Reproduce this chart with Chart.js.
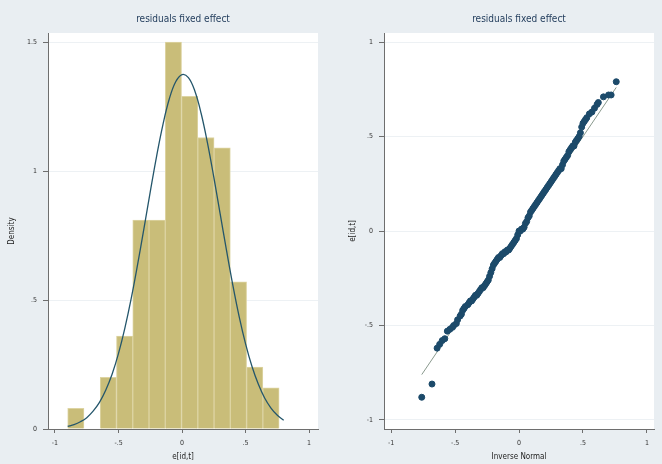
<!DOCTYPE html>
<html>
<head>
<meta charset="utf-8">
<script src="https://cdn.jsdelivr.net/npm/chart.js@4.4.1/dist/chart.umd.min.js"></script>
<style>
  body { margin: 0; background: #e9eef2; }
  .panel { position: absolute; top: 0; width: 331px; height: 464px; }
</style>
</head>
<body>
<div class="panel" style="left:0"><canvas id="histChart" width="331" height="464"></canvas></div>
<div class="panel" style="left:331px"><canvas id="qqChart" width="331" height="464"></canvas></div>
<script>
  // ======== dados ========
  const binCenters = [-0.836, -0.708, -0.580, -0.452, -0.324, -0.196, -0.068, 0.060, 0.188, 0.316, 0.444, 0.572, 0.700];
  const binDensity = [0.08, 0, 0.20, 0.36, 0.81, 0.81, 1.50, 1.29, 1.13, 1.09, 0.57, 0.24, 0.16];

  const curveX = [-0.90, -0.85, -0.80, -0.75, -0.70, -0.65, -0.60, -0.55, -0.50, -0.45, -0.40, -0.35, -0.30, -0.25, -0.20, -0.15, -0.10, -0.05,
                  0.00, 0.05, 0.10, 0.15, 0.20, 0.25, 0.30, 0.35, 0.40, 0.45, 0.50, 0.55, 0.60, 0.65, 0.70, 0.75, 0.80];
  const curveY = [0.010, 0.017, 0.028, 0.044, 0.069, 0.103, 0.151, 0.213, 0.293, 0.391, 0.506, 0.637, 0.777, 0.920, 1.058, 1.181, 1.280, 1.346,
                  1.374, 1.362, 1.311, 1.224, 1.109, 0.976, 0.834, 0.692, 0.557, 0.435, 0.330, 0.243, 0.174, 0.120, 0.081, 0.053, 0.034];

  const qqX = [-0.76, -0.68, -0.64, -0.62, -0.60, -0.58, -0.56, -0.54, -0.52, -0.51, -0.49, -0.48, -0.46, -0.45, -0.44, -0.43, -0.42, -0.40,
               -0.39, -0.38, -0.37, -0.36, -0.35, -0.34, -0.33, -0.32, -0.31, -0.30, -0.29, -0.28, -0.27, -0.26, -0.25, -0.24, -0.23, -0.22,
               -0.21, -0.20, -0.19, -0.18, -0.17, -0.16, -0.15, -0.14, -0.13, -0.12, -0.11, -0.10, -0.09, -0.08, -0.07, -0.06, -0.05, -0.04,
               -0.03, -0.02, -0.01, 0.00, 0.01, 0.02, 0.03, 0.04, 0.05, 0.06, 0.07, 0.08, 0.09, 0.10, 0.11, 0.12, 0.13, 0.14, 0.15, 0.16,
               0.17, 0.18, 0.19, 0.20, 0.21, 0.22, 0.23, 0.24, 0.25, 0.26, 0.27, 0.28, 0.29, 0.30, 0.31, 0.32, 0.33, 0.34, 0.35, 0.36,
               0.37, 0.38, 0.39, 0.40, 0.41, 0.42, 0.43, 0.44, 0.45, 0.46, 0.47, 0.48, 0.49, 0.50, 0.51, 0.52, 0.53, 0.55, 0.57, 0.59,
               0.61, 0.62, 0.66, 0.70, 0.72, 0.76];
  const qqY = [-0.88, -0.81, -0.62, -0.60, -0.58, -0.57, -0.53, -0.52, -0.51, -0.50, -0.49, -0.47, -0.45, -0.44, -0.42, -0.41, -0.40, -0.39,
               -0.38, -0.37, -0.37, -0.36, -0.35, -0.34, -0.34, -0.33, -0.32, -0.31, -0.30, -0.30, -0.29, -0.28, -0.27, -0.26, -0.24, -0.22,
               -0.20, -0.18, -0.17, -0.16, -0.15, -0.14, -0.14, -0.13, -0.12, -0.12, -0.11, -0.11, -0.10, -0.10, -0.09, -0.08, -0.07, -0.06,
               -0.05, -0.04, -0.02, 0.00, 0.00, 0.01, 0.01, 0.02, 0.04, 0.05, 0.07, 0.08, 0.10, 0.11, 0.12, 0.13, 0.14, 0.15, 0.16, 0.17,
               0.18, 0.19, 0.20, 0.21, 0.22, 0.23, 0.24, 0.25, 0.26, 0.27, 0.28, 0.29, 0.30, 0.31, 0.32, 0.33, 0.33, 0.35, 0.37, 0.38,
               0.39, 0.40, 0.42, 0.43, 0.44, 0.45, 0.45, 0.47, 0.48, 0.49, 0.50, 0.52, 0.55, 0.57, 0.58, 0.59, 0.60, 0.62, 0.63, 0.65,
               0.67, 0.68, 0.71, 0.72, 0.72, 0.79];
  const refLineX = [-0.76, 0.76];
  const refLineY = [-0.76, 0.76];

  const xTickVals = [-1, -0.5, 0, 0.5, 1];
  const xTickLabels = ['-1', '-.5', '0', '.5', '1'];
  const densTickVals = [0, 0.5, 1, 1.5];
  const densTickLabels = ['0', '.5', '1', '1.5'];
  const residTickVals = [-1, -0.5, 0, 0.5, 1];
  const residTickLabels = ['-1', '-.5', '0', '.5', '1'];

  // ======== estilo comum ========
  const fontFam = "'Liberation Sans Narrow', 'DejaVu Sans Condensed', 'Liberation Sans', sans-serif";
  const axisColor = '#6e6e6e';
  const tickFont = { family: fontFam, size: 7 };
  const labelFont = { family: fontFam, size: 8 };

  // fundo branco só na área do gráfico (plotregion do Stata)
  const plotBg = {
    id: 'plotBg',
    beforeDraw(chart) {
      const a = chart.chartArea;
      chart.ctx.save();
      chart.ctx.fillStyle = '#ffffff';
      chart.ctx.fillRect(a.left, a.top, a.right - a.left, a.bottom - a.top);
      chart.ctx.restore();
    }
  };

  function setTicks(vals) {
    return scale => { scale.ticks = vals.map(v => ({ value: v })); };
  }

  function titleOpts() {
    return {
      display: true,
      text: 'residuals fixed effect',
      fullSize: false,
      color: '#1f3a5a',
      font: { family: fontFam, size: 10, weight: 'normal' },
      padding: { top: 13, bottom: 8 }
    };
  }

  // ======== Histograma ========
  new Chart(document.getElementById('histChart'), {
    type: 'bar',
    data: {
      datasets: [{
        type: 'line',
        data: curveX.map((x, i) => ({ x: x, y: curveY[i] })),
        borderColor: '#24566b',
        borderWidth: 1.3,
        pointRadius: 0,
        tension: 0.4,
        fill: false
      }, {
        type: 'bar',
        data: binCenters.map((x, i) => ({ x: x, y: binDensity[i] })),
        backgroundColor: '#c9bd79',
        borderColor: '#ddd4a3',
        borderWidth: 1,
        barPercentage: 1,
        categoryPercentage: 1
      }]
    },
    options: {
      responsive: false,
      animation: false,
      layout: { padding: { left: 7, right: 13, top: 0, bottom: 2 } },
      plugins: { legend: { display: false }, tooltip: { enabled: false }, title: titleOpts() },
      scales: {
        x: {
          type: 'linear', min: -1.055, max: 1.07, offset: false,
          afterBuildTicks: setTicks(xTickVals),
          afterFit: s => { s.height = 33; },
          grid: { drawOnChartArea: false, offset: false, tickLength: 4, tickColor: axisColor },
          border: { color: axisColor },
          ticks: { font: tickFont, color: '#333', padding: 6, maxRotation: 0, callback: (v, i) => xTickLabels[i] },
          title: { display: true, text: 'e[id,t]', font: labelFont, color: '#222', padding: 0 }
        },
        y: {
          min: 0, max: 1.535,
          afterBuildTicks: setTicks(densTickVals),
          afterFit: s => { s.width = 41; },
          grid: { color: '#edf1f4', tickLength: 5, tickColor: axisColor },
          border: { color: axisColor },
          ticks: { font: tickFont, color: '#333', padding: 6, callback: (v, i) => densTickLabels[i] },
          title: { display: true, text: 'Density', font: labelFont, color: '#222', padding: 0 }
        }
      }
    },
    plugins: [plotBg]
  });

  // ======== Gráfico Q-Q ========
  new Chart(document.getElementById('qqChart'), {
    type: 'scatter',
    data: {
      datasets: [{
        data: qqX.map((x, i) => ({ x: x, y: qqY[i] })),
        backgroundColor: '#1c4a6a',
        borderColor: '#1c4a6a',
        pointRadius: 3,
        order: 1
      }, {
        type: 'line',
        data: refLineX.map((x, i) => ({ x: x, y: refLineY[i] })),
        borderColor: '#8a9a8e',
        borderWidth: 1,
        pointRadius: 0,
        fill: false,
        order: 2
      }]
    },
    options: {
      responsive: false,
      animation: false,
      layout: { padding: { left: 17, right: 8, top: 0, bottom: 2 } },
      plugins: { legend: { display: false }, tooltip: { enabled: false }, title: titleOpts() },
      scales: {
        x: {
          type: 'linear', min: -1.055, max: 1.055,
          afterBuildTicks: setTicks(xTickVals),
          afterFit: s => { s.height = 33; },
          grid: { drawOnChartArea: false, tickLength: 4, tickColor: axisColor },
          border: { color: axisColor },
          ticks: { font: tickFont, color: '#333', padding: 6, maxRotation: 0, callback: (v, i) => xTickLabels[i] },
          title: { display: true, text: 'Inverse Normal', font: labelFont, color: '#222', padding: 0 }
        },
        y: {
          min: -1.048, max: 1.048,
          afterBuildTicks: setTicks(residTickVals),
          afterFit: s => { s.width = 36; },
          grid: { color: '#edf1f4', tickLength: 5, tickColor: axisColor },
          border: { color: axisColor },
          ticks: { font: tickFont, color: '#333', padding: 6, callback: (v, i) => residTickLabels[i] },
          title: { display: true, text: 'e[id,t]', font: labelFont, color: '#222', padding: 0 }
        }
      }
    },
    plugins: [plotBg]
  });
</script>
</body>
</html>
